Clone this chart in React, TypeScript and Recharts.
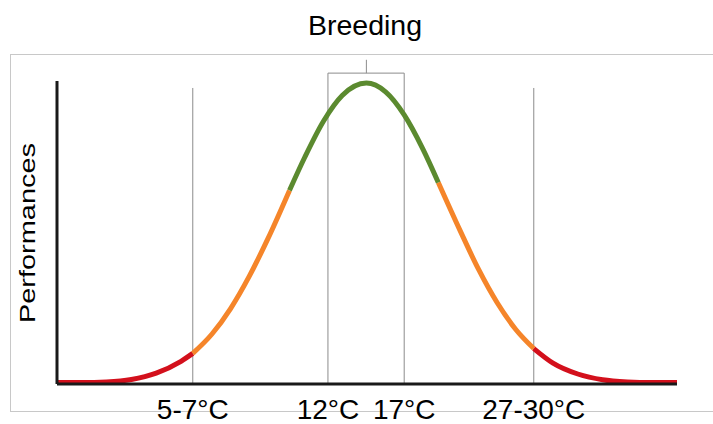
import React from 'react';
import { LineChart, Line, XAxis, YAxis, ReferenceLine } from 'recharts';

// Horizontal position along the temperature gradient (0 = left end, 100 = right end)
const xPos = [0, 4, 8, 12, 16, 20, 21.9, 25, 28, 31, 34, 37.5, 40, 43, 46, 49.9, 53, 56, 59, 61.5, 65, 68, 71, 74, 76.9, 80, 84, 88, 92, 96, 100];
// Performance (0-100)
const perf = [0.5, 0.5, 0.7, 1.5, 3.6, 7.5, 10.1, 16.5, 24.9, 35.5, 47.9, 63.9, 75.0, 86.8, 95.2, 99.3, 96.4, 88.8, 77.6, 66.5, 50.7, 37.8, 26.8, 18.0, 11.7, 6.9, 3.3, 1.4, 0.7, 0.5, 0.5];
// Colour zone boundaries: red | orange | green | orange | red
const colorBreaks = [21.9, 37.5, 61.5, 76.9];
// Temperature markers
const markers = [21.9, 43.7, 56.0, 76.9];
const tickLabels = ['5-7°C', '12°C', '17°C', '27-30°C'];
const breedingRange = [43.7, 56.0];
const breedingCenter = 49.9;

const data = xPos.map((x, i) => {
  const [b0, b1, b2, b3] = colorBreaks;
  return {
    x,
    red: x <= b0 || x >= b3 ? perf[i] : null,
    orange: (x >= b0 && x <= b1) || (x >= b2 && x <= b3) ? perf[i] : null,
    green: x >= b1 && x <= b2 ? perf[i] : null,
  };
});

const FONT = '"Liberation Sans", Arial, sans-serif';

const Tick = (props: any) => {
  const { x, payload } = props;
  const idx = markers.indexOf(payload.value);
  return (
    <text x={x} y={419} textAnchor="middle" fontSize={28} fontFamily={FONT} fill="#000">
      {tickLabels[idx]}
    </text>
  );
};

export default function App() {
  const grid = '#8c8c8c';
  return (
    <div style={{ position: 'absolute', left: 0, top: 0, width: 713, height: 424, background: '#fff' }}>
      <svg width={713} height={424} style={{ position: 'absolute', left: 0, top: 0 }}>
        <line x1={10} y1={54.5} x2={713} y2={54.5} stroke="#c8c8c8" strokeWidth={1} />
        <line x1={10.5} y1={54} x2={10.5} y2={412} stroke="#c8c8c8" strokeWidth={1} />
        <line x1={10} y1={411.5} x2={713} y2={411.5} stroke="#c8c8c8" strokeWidth={1} />
        <text x={365} y={35} textAnchor="middle" fontSize={28.5} fontFamily={FONT} fill="#000">Breeding</text>
        <text
          transform="translate(35,233) rotate(-90) scale(1,0.75)"
          textAnchor="middle"
          fontSize={28.5}
          fontFamily={FONT}
          fill="#000"
          textLength={180}
          lengthAdjust="spacingAndGlyphs"
        >
          Performances
        </text>
      </svg>
      <div style={{ position: 'absolute', left: 0, top: 0 }}>
        <LineChart width={713} height={424} data={data} margin={{ top: 81, right: 36, bottom: 0, left: 55 }}>
          <XAxis
            type="number"
            dataKey="x"
            domain={[0, 100]}
            ticks={markers}
            tick={<Tick />}
            tickLine={false}
            height={40}
            axisLine={{ stroke: '#1a1a1a', strokeWidth: 3 }}
          />
          <YAxis
            type="number"
            domain={[0, 100]}
            tick={false}
            tickLine={false}
            width={2}
            axisLine={{ stroke: '#1a1a1a', strokeWidth: 3 }}
          />
          <ReferenceLine segment={[{ x: markers[0], y: 0 }, { x: markers[0], y: 97.7 }]} stroke={grid} strokeWidth={1} ifOverflow="visible" />
          <ReferenceLine segment={[{ x: markers[3], y: 0 }, { x: markers[3], y: 97.7 }]} stroke={grid} strokeWidth={1} ifOverflow="visible" />
          <ReferenceLine segment={[{ x: breedingRange[0], y: 0 }, { x: breedingRange[0], y: 102.6 }]} stroke={grid} strokeWidth={1} ifOverflow="visible" />
          <ReferenceLine segment={[{ x: breedingRange[1], y: 0 }, { x: breedingRange[1], y: 102.6 }]} stroke={grid} strokeWidth={1} ifOverflow="visible" />
          <ReferenceLine segment={[{ x: breedingRange[0], y: 102.6 }, { x: breedingRange[1], y: 102.6 }]} stroke={grid} strokeWidth={1} ifOverflow="visible" />
          <ReferenceLine segment={[{ x: breedingCenter, y: 102.6 }, { x: breedingCenter, y: 107 }]} stroke={grid} strokeWidth={1} ifOverflow="visible" />
          <Line type="monotone" dataKey="red" stroke="#d3101c" strokeWidth={5} dot={false} isAnimationActive={false} connectNulls={false} />
          <Line type="monotone" dataKey="orange" stroke="#f5852a" strokeWidth={5} dot={false} isAnimationActive={false} connectNulls={false} />
          <Line type="monotone" dataKey="green" stroke="#5b8a2f" strokeWidth={5} dot={false} isAnimationActive={false} connectNulls={false} />
        </LineChart>
      </div>
    </div>
  );
}
